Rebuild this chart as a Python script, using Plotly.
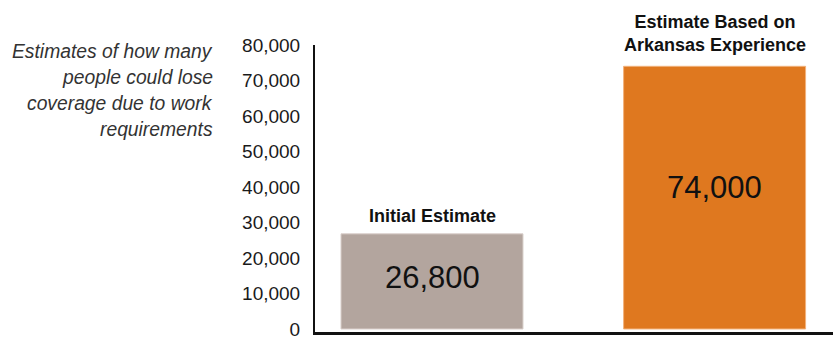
import plotly.graph_objects as go

categories = ["Initial Estimate", "Estimate Based on<br>Arkansas Experience"]
values = [26800, 74000]
value_labels = ["26,800", "74,000"]
bar_colors = ["#B3A59E", "#DF781F"]
bar_edges = ["#D9CFCA", "#F2B27C"]
tick_vals = [0, 10000, 20000, 30000, 40000, 50000, 60000, 70000, 80000]
side_note = ["Estimates of how many", "people could lose", "coverage due to work", "requirements"]

FONT = "Liberation Sans, Arial, sans-serif"
xs = list(range(len(categories)))
label_shift = [6, 9]

fig = go.Figure()
fig.add_trace(go.Bar(
    x=xs, y=values, width=0.644,
    marker=dict(color=bar_colors, line=dict(color=bar_edges, width=1)),
    hoverinfo="skip",
))

for x, v, lab, cat, ys in zip(xs, values, value_labels, categories, label_shift):
    fig.add_annotation(x=x, y=v * 0.54, text=lab, showarrow=False,
                       font=dict(family=FONT, size=31, color="#111111"),
                       xanchor="center", yanchor="middle")
    fig.add_annotation(x=x, y=v, text="<b>" + cat + "</b>", showarrow=False,
                       font=dict(family=FONT, size=18, color="#111111"),
                       xanchor="center", yanchor="bottom", yshift=ys)

note_y = [0.978, 0.887, 0.796, 0.705]
for t, yy in zip(side_note, note_y):
    fig.add_annotation(xref="paper", yref="paper", x=-0.193, y=yy, text="<i>" + t + "</i>",
                       showarrow=False, xanchor="right", yanchor="middle", align="right",
                       font=dict(family=FONT, size=19.3, color="#333333"))

fig.update_layout(
    width=833, height=339,
    margin=dict(l=315, r=0, t=45, b=7),
    paper_bgcolor="white", plot_bgcolor="white",
    showlegend=False,
    xaxis=dict(range=[-0.414, 1.419], showticklabels=False, showgrid=False, zeroline=False,
               showline=True, linecolor="#111111", linewidth=3, ticks="", fixedrange=True),
    yaxis=dict(range=[-850, 80000], tickvals=tick_vals, tickformat=",", showgrid=False,
               zeroline=False, showline=True, linecolor="#111111", linewidth=2, ticks="",
               ticklabelstandoff=9, ticklabeloverflow="allow", fixedrange=True,
               tickfont=dict(family=FONT, size=19, color="#1A1A1A")),
)

fig.write_html("out.html", config={"displayModeBar": False, "staticPlot": True})
with open("out.html", "r", encoding="utf-8") as f:
    html = f.read()
html = html.replace("<head>", "<head><style>html,body{margin:0;padding:0;overflow:hidden;}</style>", 1)
with open("out.html", "w", encoding="utf-8") as f:
    f.write(html)
